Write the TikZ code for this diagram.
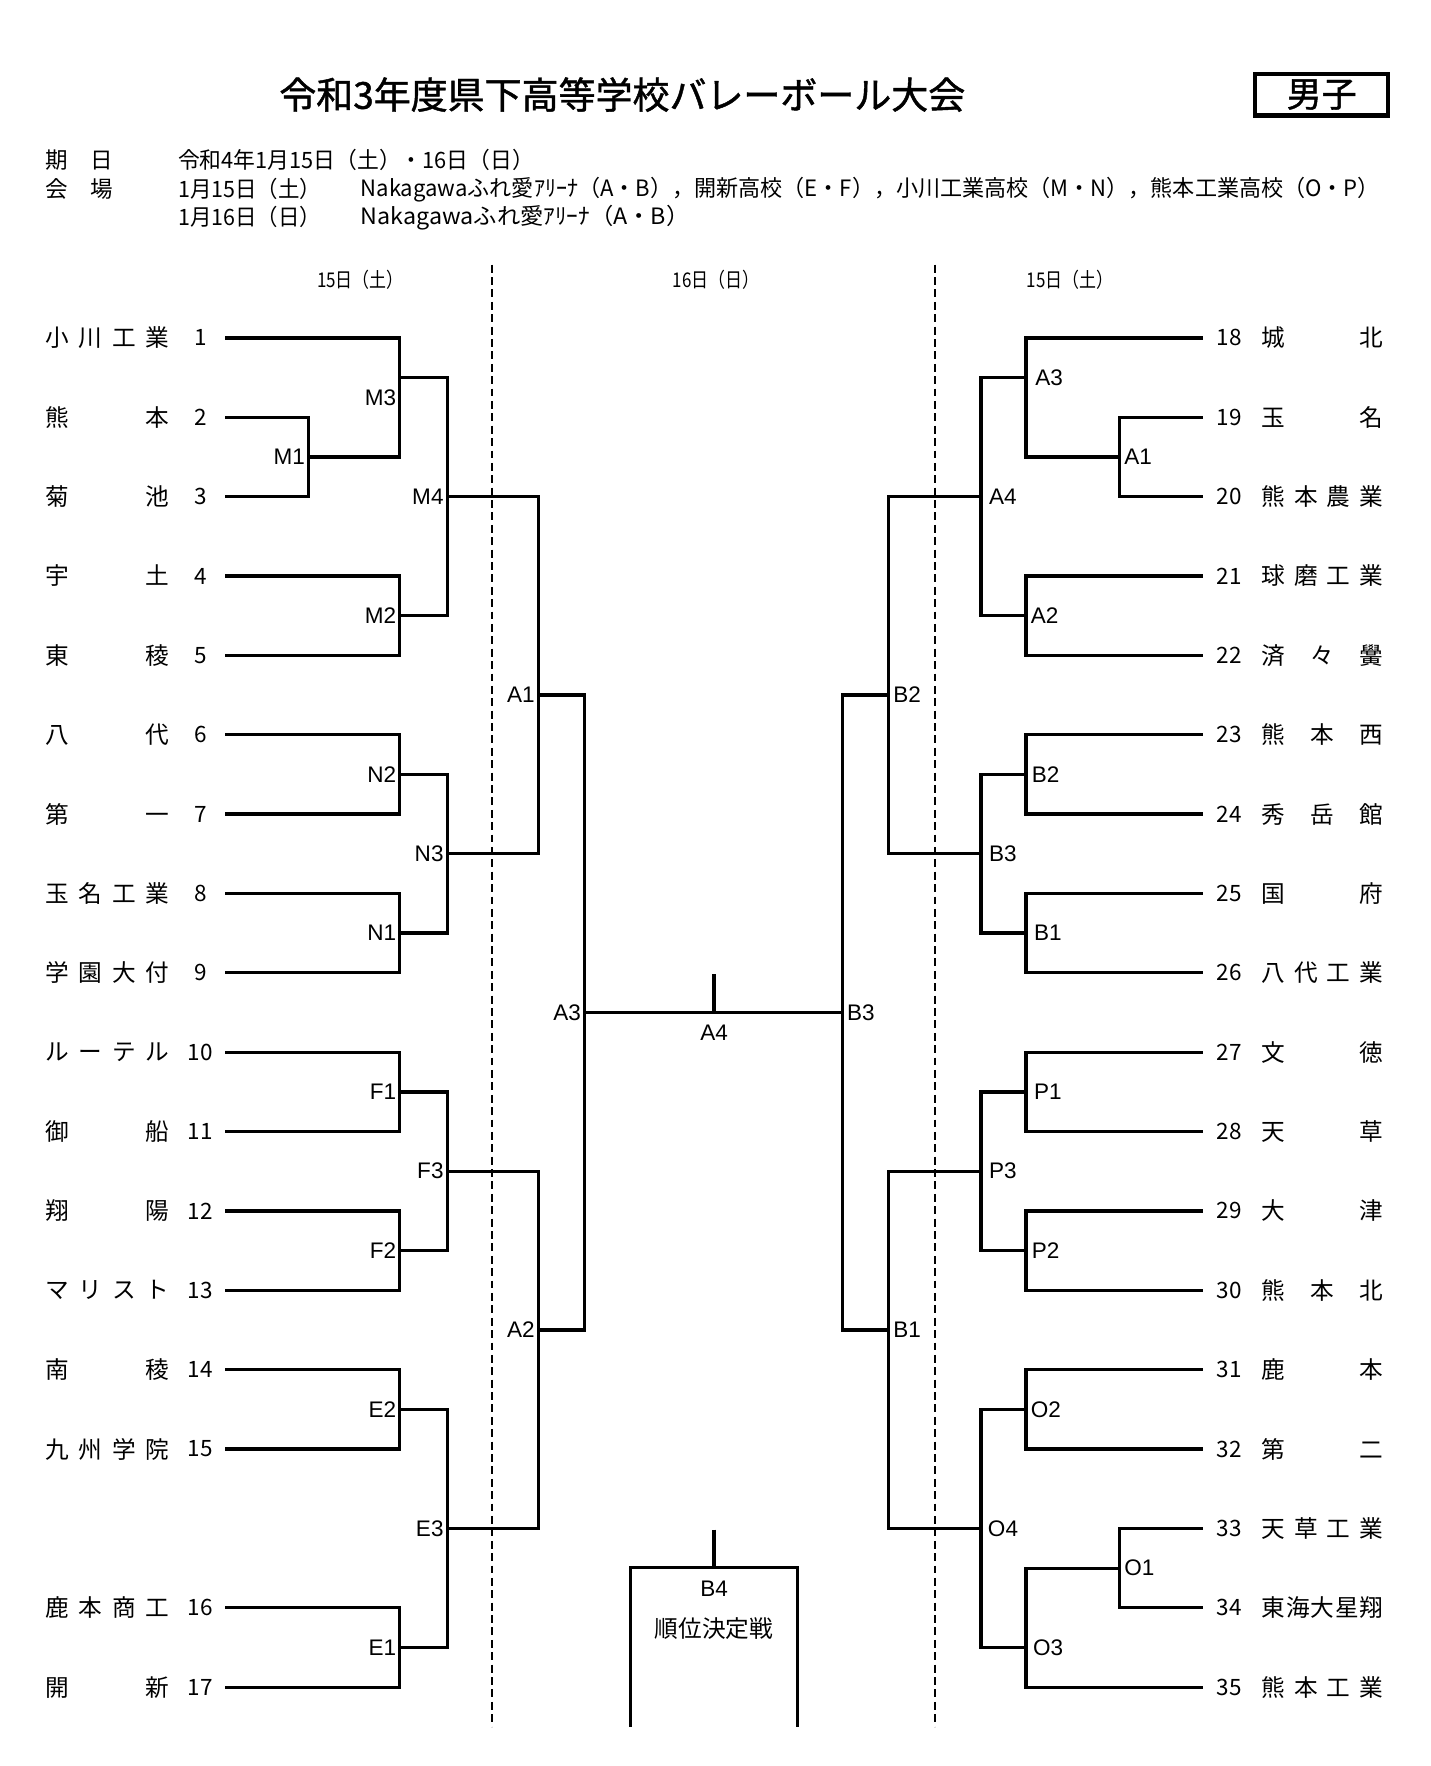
\documentclass[tikz,border=0pt]{standalone}
\usepackage{fontspec}
\usepackage{graphicx}
\setmainfont{Noto Sans CJK JP}
\newfontfamily\labfont{Liberation Sans}
\newfontfamily\titlefont[FakeBold=1.2]{Noto Sans CJK JP}
\newcommand\leftteam[4]{%
  \node[lname] (n#1) at (40,#2) {\makebox[110pt][s]{#4}};
  \node[lnum] (t#1) at (178,#2) {#3};
  \coordinate (e#1) at (200,#2);}
\newcommand\rightteam[4]{%
  \node[rnum] (t#1) at (1080,#2) {#3};
  \node[rname] (n#1) at (1120,#2) {\makebox[108pt][s]{#4}};
  \coordinate (e#1) at (1068,#2);}
\tikzset{
  bracket/.style={line width=2.9pt, line join=miter},
  divider/.style={line width=2.1pt, dash pattern=on 7pt off 4pt},
  lname/.style={anchor=west, inner sep=0pt, font=\fontsize{21}{21}\selectfont},
  rname/.style={anchor=west, inner sep=0pt, font=\fontsize{21}{21}\selectfont},
  lnum/.style={inner sep=0pt, font=\fontsize{20}{20}\selectfont},
  rnum/.style={anchor=west, inner sep=0pt, font=\fontsize{20}{20}\selectfont},
  labL/.style={anchor=east, inner sep=0pt, font=\labfont\fontsize{20}{20}\selectfont},
  labR/.style={anchor=west, inner sep=0pt, font=\labfont\fontsize{20}{20}\selectfont},
  labC/.style={inner sep=0pt, font=\labfont\fontsize{20}{20}\selectfont},
  info/.style={anchor=west, inner sep=0pt, font=\fontsize{20}{20}\selectfont},
  colhead/.style={inner sep=0pt, font=\fontsize{18}{18}\selectfont},
}
\begin{document}
\begin{tikzpicture}[x=1pt,y=-1pt]
\useasboundingbox[fill=white] (0,0) rectangle (1270,1568);

% title
\node[inner sep=0pt, font=\titlefont\fontsize{33}{33}\selectfont] (title) at (552.5,84)
  {\resizebox{609pt}{\height}{令和3年度県下高等学校バレーボール大会}};
\node[draw, line width=3.8pt, minimum width=118pt, minimum height=37pt, inner sep=0pt,
  font=\titlefont\fontsize{31}{31}\selectfont] (sex) at (1173.5,84) {男子};

% info
\node[info] (kijitsu) at (40,142) {\makebox[60pt][s]{期\hfill 日}};
\node[info] (kijitsuv) at (158,142) {\resizebox{316pt}{\height}{令和4年1月15日（土）・16日（日）}};
\node[info] (kaijo) at (40,168) {\makebox[60pt][s]{会\hfill 場}};
\node[info] (day1) at (158,168) {\resizebox{127pt}{\height}{1月15日（土）}};
\node[info] (venue1) at (320,168) {\resizebox{905pt}{\height}{Nakagawaふれ愛ｱﾘｰﾅ（A・B），開新高校（E・F），小川工業高校（M・N），熊本工業高校（O・P）}};
\node[info] (day2) at (158,193) {\resizebox{127pt}{\height}{1月16日（日）}};
\node[info] (venue2) at (320,193) {\resizebox{292pt}{\height}{Nakagawaふれ愛ｱﾘｰﾅ（A・B）}};

% column headers
\node[colhead] (h1) at (320,248) {\resizebox{77pt}{\height}{15日（土）}};
\node[colhead] (h2) at (636,248) {\resizebox{77pt}{\height}{16日（日）}};
\node[colhead] (h3) at (950,248) {\resizebox{77pt}{\height}{15日（土）}};

% dividers
\coordinate (d1t) at (437,235); \coordinate (d1b) at (437,1533);
\coordinate (d2t) at (830,235); \coordinate (d2b) at (830,1533);
\draw[divider] (d1t) -- (d1b);
\draw[divider] (d2t) -- (d2b);

% left teams
\leftteam{1}{300}{1}{小\hfill 川\hfill 工\hfill 業}
\leftteam{2}{370.47}{2}{熊\hfill 本}
\leftteam{3}{440.94}{3}{菊\hfill 池}
\leftteam{4}{511.41}{4}{宇\hfill 土}
\leftteam{5}{581.88}{5}{東\hfill 稜}
\leftteam{6}{652.35}{6}{八\hfill 代}
\leftteam{7}{722.82}{7}{第\hfill 一}
\leftteam{8}{793.29}{8}{玉\hfill 名\hfill 工\hfill 業}
\leftteam{9}{863.76}{9}{学\hfill 園\hfill 大\hfill 付}
\leftteam{10}{934.23}{10}{ル\hfill ー\hfill テ\hfill ル}
\leftteam{11}{1004.7}{11}{御\hfill 船}
\leftteam{12}{1075.17}{12}{翔\hfill 陽}
\leftteam{13}{1145.64}{13}{マ\hfill リ\hfill ス\hfill ト}
\leftteam{14}{1216.11}{14}{南\hfill 稜}
\leftteam{15}{1286.58}{15}{九\hfill 州\hfill 学\hfill 院}
\leftteam{16}{1427.52}{16}{鹿\hfill 本\hfill 商\hfill 工}
\leftteam{17}{1497.99}{17}{開\hfill 新}

% right teams
\rightteam{18}{300}{18}{城\hfill 北}
\rightteam{19}{370.47}{19}{玉\hfill 名}
\rightteam{20}{440.94}{20}{熊\hfill 本\hfill 農\hfill 業}
\rightteam{21}{511.41}{21}{球\hfill 磨\hfill 工\hfill 業}
\rightteam{22}{581.88}{22}{済\hfill 々\hfill 黌}
\rightteam{23}{652.35}{23}{熊\hfill 本\hfill 西}
\rightteam{24}{722.82}{24}{秀\hfill 岳\hfill 館}
\rightteam{25}{793.29}{25}{国\hfill 府}
\rightteam{26}{863.76}{26}{八\hfill 代\hfill 工\hfill 業}
\rightteam{27}{934.23}{27}{文\hfill 徳}
\rightteam{28}{1004.7}{28}{天\hfill 草}
\rightteam{29}{1075.17}{29}{大\hfill 津}
\rightteam{30}{1145.64}{30}{熊\hfill 本\hfill 北}
\rightteam{31}{1216.11}{31}{鹿\hfill 本}
\rightteam{32}{1286.58}{32}{第\hfill 二}
\rightteam{33}{1357.05}{33}{天\hfill 草\hfill 工\hfill 業}
\rightteam{34}{1427.52}{34}{東\hfill 海\hfill 大\hfill 星\hfill 翔}
\rightteam{35}{1497.99}{35}{熊\hfill 本\hfill 工\hfill 業}

% left match points
\coordinate (M1) at (274,405.7);
\coordinate (M3) at (355,335.2);
\coordinate (M2) at (355,546.6);
\coordinate (M4) at (397,440.94);
\coordinate (N2) at (355,687.6);
\coordinate (N1) at (355,828.5);
\coordinate (N3) at (397,758.05);
\coordinate (LA1) at (478,617.1);
\coordinate (F1) at (355,969.5);
\coordinate (F2) at (355,1110.4);
\coordinate (F3) at (397,1039.9);
\coordinate (E2) at (355,1251.3);
\coordinate (E1) at (355,1462.8);
\coordinate (E3) at (397,1357.05);
\coordinate (LA2) at (478,1180.9);
\coordinate (LA3) at (519,899);
% centre
\coordinate (CB3) at (748,899);
\coordinate (A4) at (634,899);
\coordinate (A4t) at (634,865);
% right match points
\coordinate (RA1) at (994,405.7);
\coordinate (RA3) at (911,335.2);
\coordinate (RA2) at (911,546.6);
\coordinate (RA4) at (871,440.94);
\coordinate (RB2) at (911,687.6);
\coordinate (RB1) at (911,828.5);
\coordinate (RB3) at (871,758.05);
\coordinate (CB2) at (789,617.1);
\coordinate (P1) at (911,969.5);
\coordinate (P2) at (911,1110.4);
\coordinate (P3) at (871,1039.9);
\coordinate (O2) at (911,1251.3);
\coordinate (O1) at (994,1392.3);
\coordinate (O3) at (911,1462.8);
\coordinate (O4) at (871,1357.05);
\coordinate (CB1) at (789,1180.9);
% B4
\coordinate (B4t) at (634,1358);
\coordinate (B4) at (634,1392);
\coordinate (B4l) at (560,1392);
\coordinate (B4r) at (708,1392);
\coordinate (B4lb) at (560,1533);
\coordinate (B4rb) at (708,1533);

% left bracket lines
\draw[bracket] (e2) -| (M1) |- (e3);
\draw[bracket] (e1) -| (M3) |- (M1);
\draw[bracket] (e4) -| (M2) |- (e5);
\draw[bracket] (M3) -| (M4) |- (M2);
\draw[bracket] (e6) -| (N2) |- (e7);
\draw[bracket] (e8) -| (N1) |- (e9);
\draw[bracket] (N2) -| (N3) |- (N1);
\draw[bracket] (M4) -| (LA1) |- (N3);
\draw[bracket] (e10) -| (F1) |- (e11);
\draw[bracket] (e12) -| (F2) |- (e13);
\draw[bracket] (F1) -| (F3) |- (F2);
\draw[bracket] (e14) -| (E2) |- (e15);
\draw[bracket] (e16) -| (E1) |- (e17);
\draw[bracket] (E2) -| (E3) |- (E1);
\draw[bracket] (F3) -| (LA2) |- (E3);
\draw[bracket] (LA1) -| (LA3) |- (LA2);
% centre
\draw[bracket] (LA3) -- (CB3);
\draw[bracket] (A4) -- (A4t);
\draw[bracket] (CB2) -| (CB3) |- (CB1);
% right bracket lines
\draw[bracket] (e19) -| (RA1) |- (e20);
\draw[bracket] (e18) -| (RA3) |- (RA1);
\draw[bracket] (e21) -| (RA2) |- (e22);
\draw[bracket] (RA3) -| (RA4) |- (RA2);
\draw[bracket] (e23) -| (RB2) |- (e24);
\draw[bracket] (e25) -| (RB1) |- (e26);
\draw[bracket] (RB2) -| (RB3) |- (RB1);
\draw[bracket] (RA4) -| (CB2) |- (RB3);
\draw[bracket] (e27) -| (P1) |- (e28);
\draw[bracket] (e29) -| (P2) |- (e30);
\draw[bracket] (P1) -| (P3) |- (P2);
\draw[bracket] (e31) -| (O2) |- (e32);
\draw[bracket] (e33) -| (O1) |- (e34);
\draw[bracket] (O1) -| (O3) |- (e35);
\draw[bracket] (O2) -| (O4) |- (O3);
\draw[bracket] (P3) -| (CB1) |- (O4);
% B4 box
\draw[bracket] (B4t) -- (B4);
\draw[bracket] (B4lb) -- (B4l) -- (B4r) -- (B4rb);

% labels left
\node[labL] (lM3) at (352,353) {M3};
\node[labL] (lM1) at (271,405.7) {M1};
\node[labL] (lM4) at (394,440.94) {M4};
\node[labL] (lM2) at (352,546.6) {M2};
\node[labL] (lA1) at (475,617.1) {A1};
\node[labL] (lN2) at (352,687.6) {N2};
\node[labL] (lN3) at (394,758.05) {N3};
\node[labL] (lN1) at (352,828.5) {N1};
\node[labL] (lA3) at (516,899) {A3};
\node[labL] (lF1) at (352,969.5) {F1};
\node[labL] (lF3) at (394,1039.9) {F3};
\node[labL] (lF2) at (352,1110.4) {F2};
\node[labL] (lA2) at (475,1180.9) {A2};
\node[labL] (lE2) at (352,1251.3) {E2};
\node[labL] (lE3) at (394,1357.05) {E3};
\node[labL] (lE1) at (352,1462.8) {E1};
% centre labels
\node[labC] (lA4) at (634,917) {A4};
\node[labR] (lB3c) at (752,899) {B3};
\node[labR] (lB2c) at (793,617.1) {B2};
\node[labR] (lB1c) at (793,1180.9) {B1};
\node[labC] (lB4) at (634,1411) {B4};
\node[inner sep=0pt, font=\fontsize{21}{21}\selectfont] (lB4t) at (634,1446) {順位決定戦};
% labels right
\node[labR] (rA3) at (919,335.2) {A3};
\node[labR] (rA1) at (998,405.7) {A1};
\node[labR] (rA4) at (878,440.94) {A4};
\node[labR] (rA2) at (915,546.6) {A2};
\node[labR] (rB2) at (916,687.6) {B2};
\node[labR] (rB3) at (878,758.05) {B3};
\node[labR] (rB1) at (918,828.5) {B1};
\node[labR] (rP1) at (918,969.5) {P1};
\node[labR] (rP3) at (878,1039.9) {P3};
\node[labR] (rP2) at (916,1110.4) {P2};
\node[labR] (rO2) at (915,1251.3) {O2};
\node[labR] (rO4) at (877,1357.05) {O4};
\node[labR] (rO1) at (998,1392.3) {O1};
\node[labR] (rO3) at (917,1462.8) {O3};
\end{tikzpicture}
\end{document}
